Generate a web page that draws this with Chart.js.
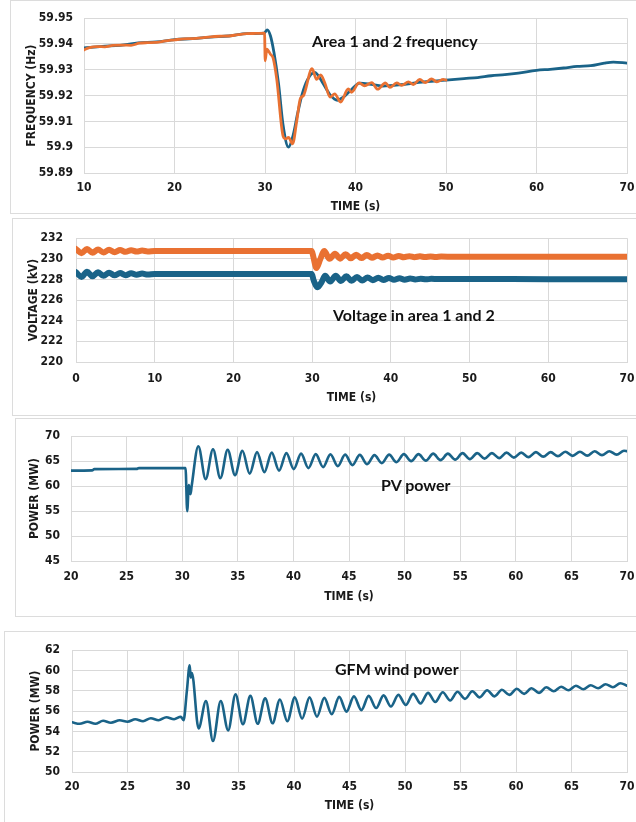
<!DOCTYPE html>
<html>
<head>
<meta charset="utf-8">
<script src="https://cdn.jsdelivr.net/npm/chart.js@4.4.1/dist/chart.umd.min.js"></script>
<style>
  html, body { margin:0; padding:0; background:#fff; }
  body { width:636px; height:822px; position:relative; overflow:hidden; }
  .panel { position:absolute; border:1px solid #dcdcdc; box-sizing:border-box; }
  canvas { position:absolute; left:0; }
  .lbl { position:absolute; font-family: Lato, 'Open Sans', sans-serif; font-weight:bold; font-size:16px; line-height:20px; color:#111; white-space:nowrap; }
</style>
</head>
<body>
<div class="panel" style="left:10px;top:0px;width:640px;height:214px"></div>
<div class="panel" style="left:12px;top:218px;width:640px;height:198px"></div>
<div class="panel" style="left:15px;top:418px;width:640px;height:199px"></div>
<div class="panel" style="left:4px;top:631px;width:640px;height:200px"></div>

<canvas id="c1" width="636" height="214" style="top:0px"></canvas>
<canvas id="c2" width="636" height="187" style="top:218px"></canvas>
<canvas id="c3" width="636" height="186" style="top:418px"></canvas>
<canvas id="c4" width="636" height="182" style="top:631px"></canvas>

<div class="lbl" style="left:312px;top:31px">Area 1 and 2 frequency</div>
<div class="lbl" style="left:333px;top:305px">Voltage in area 1 and 2</div>
<div class="lbl" style="left:381px;top:475px">PV power</div>
<div class="lbl" style="left:335px;top:659px">GFM wind power</div>

<script>
// ---------- Panel 1: frequency ----------
const freqXTicks = ['10','20','30','40','50','60','70'];
const freqYTicks = ['59.89','59.9','59.91','59.92','59.93','59.94','59.95'];
const freqBlueT = [10,12,14,16,18,20,22,24,26,28,29.9,30.25,30.6,31.0,31.5,32.0,32.6,33.1,33.6,34.1,34.7,35.5,36.4,37.2,38.0,38.7,39.4,40.5,41.5,43.0,45.0,47.0,50.0,52.0,53.5,55.0,56.5,58.0,60.0,61.5,63.0,64.5,66.0,67.5,68.5,70.0];
const freqBlueV = [59.9385,59.9391,59.9395,59.9404,59.9408,59.9417,59.9421,59.9427,59.9431,59.9440,59.9442,59.9455,59.9432,59.9365,59.9245,59.9085,59.9000,59.9045,59.9130,59.9205,59.9262,59.9290,59.9248,59.9203,59.9182,59.9195,59.9218,59.9248,59.9245,59.9237,59.9242,59.9251,59.9260,59.9266,59.9270,59.9277,59.9281,59.9287,59.9298,59.9302,59.9307,59.9313,59.9316,59.9326,59.9330,59.9326];
const freqOrangeT = [10,10.6,11.5,12.3,13.2,14.3,15.2,16.1,17.0,18.0,19.0,20.0,21.0,22.0,23.0,24.0,25.0,26.0,27.0,28.0,29.0,29.95,30.02,30.2,30.6,30.9,31.3,32.0,32.3,32.6,33.05,33.5,33.9,34.25,35.2,35.7,36.15,36.6,37.2,37.7,38.35,39.2,39.55,40.4,41.0,41.8,42.45,43.3,43.8,44.55,45.1,45.85,46.4,47.1,47.7,48.4,49.0,49.7,50.0];
const freqOrangeV = [59.9377,59.9386,59.9390,59.9389,59.9395,59.9396,59.9395,59.9403,59.9405,59.9406,59.9412,59.9416,59.9420,59.9421,59.9424,59.9428,59.9430,59.9431,59.9436,59.9440,59.9441,59.9442,59.9335,59.9380,59.9360,59.9345,59.9263,59.9043,59.9032,59.9038,59.9013,59.9100,59.9188,59.9200,59.9304,59.9263,59.9280,59.9250,59.9194,59.9207,59.9175,59.9226,59.9213,59.9249,59.9238,59.9250,59.9225,59.9249,59.9232,59.9249,59.9240,59.9253,59.9243,59.9263,59.9250,59.9265,59.9253,59.9263,59.9260];

// ---------- Panel 2: voltage ----------
const voltXTicks = ['0','10','20','30','40','50','60','70'];
const voltYTicks = ['220','222','224','226','228','230','232'];
const voltOrangeT = [0,0.7,1.4,2.1,2.8,3.5,4.2,4.9,5.6,6.3,7.0,7.7,8.4,9.1,10,15,20,25,29.95,30.15,30.55,31.0,31.55,32.2,32.9,33.55,34.25,34.9,35.6,36.25,36.95,37.6,38.3,38.95,39.65,40.3,41.0,41.65,42.35,43.0,43.7,44.35,45.05,45.7,46.4,48,55,62,70];
const voltOrangeV = [230.95,230.55,230.95,230.6,230.9,230.62,230.88,230.65,230.85,230.68,230.83,230.7,230.8,230.72,230.77,230.76,230.76,230.76,230.76,230.2,229.1,229.9,230.75,230.0,230.5,230.02,230.45,230.05,230.4,230.07,230.36,230.1,230.33,230.12,230.3,230.13,230.28,230.15,230.26,230.16,230.24,230.17,230.23,230.18,230.22,230.2,230.2,230.2,230.2];
const voltBlueT = [0,0.7,1.4,2.1,2.8,3.5,4.2,4.9,5.6,6.3,7.0,7.7,8.4,9.1,10,15,20,25,29.95,30.2,30.7,31.2,31.65,32.3,33.0,33.65,34.35,35.0,35.7,36.35,37.05,37.7,38.4,39.05,39.75,40.4,41.1,41.75,42.45,43.1,43.8,44.45,45.15,46,50,60,70];
const voltBlueV = [228.7,228.25,228.75,228.3,228.7,228.35,228.65,228.4,228.62,228.42,228.6,228.45,228.57,228.47,228.53,228.52,228.52,228.52,228.52,227.9,227.25,227.75,228.35,227.8,228.35,227.85,228.3,227.88,228.25,227.9,228.2,227.93,228.17,227.95,228.14,227.97,228.12,227.98,228.1,228.0,228.08,228.01,228.06,228.04,228.04,228.03,228.03];

// ---------- Panel 3: PV power ----------
const pvXTicks = ['20','25','30','35','40','45','50','55','60','65','70'];
const pvYTicks = ['45','50','55','60','65','70'];
const pvT = [20.0,21.9,22.1,25.9,26.1,30.3,30.45,30.6,30.75,30.85,31.45,32.11,32.77,33.43,34.09,34.75,35.41,36.07,36.73,37.39,38.05,38.71,39.37,40.03,40.69,41.35,42.01,42.67,43.33,43.99,44.65,45.31,45.97,46.63,47.29,47.95,48.61,49.27,49.93,50.59,51.25,51.91,52.57,53.23,53.89,54.55,55.21,55.87,56.53,57.19,57.85,58.51,59.17,59.83,60.49,61.15,61.81,62.47,63.13,63.79,64.45,65.11,65.77,66.43,67.09,67.75,68.41,69.07,69.73,70.0];
const pvV = [63.1,63.15,63.4,63.45,63.6,63.6,55.0,60.2,58.4,60.0,68.0,61.4,67.4,61.6,67.3,62.2,67.1,62.5,66.8,62.8,66.7,63.1,66.6,63.4,66.5,63.6,66.4,63.8,66.35,64.0,66.3,64.2,66.25,64.4,66.2,64.6,66.3,64.8,66.4,65.0,66.4,65.1,66.5,65.2,66.5,65.3,66.6,65.4,66.6,65.5,66.6,65.6,66.7,65.7,66.7,65.8,66.8,65.9,66.8,66.0,66.9,66.05,66.9,66.1,67.0,66.2,67.0,66.3,67.1,67.0];

// ---------- Panel 4: GFM wind power ----------
const windXTicks = ['20','25','30','35','40','45','50','55','60','65','70'];
const windYTicks = ['50','52','54','56','58','60','62'];
const windT = [20.0,20.7,21.4,22.1,22.8,23.5,24.3,25.0,25.7,26.4,27.1,27.8,28.5,29.2,29.8,30.05,30.35,30.6,30.7,30.8,31.4,32.07,32.7,33.4,34.07,34.73,35.4,36.07,36.73,37.4,38.07,38.73,39.4,40.07,40.73,41.4,42.07,42.73,43.4,44.07,44.73,45.4,46.07,46.73,47.4,48.07,48.73,49.4,50.07,50.73,51.4,52.07,52.73,53.4,54.07,54.73,55.4,56.07,56.73,57.4,58.07,58.73,59.4,60.07,60.73,61.4,62.07,62.73,63.4,64.07,64.73,65.4,66.07,66.73,67.4,68.07,68.73,69.4,70.0];
const windV = [54.9,54.75,54.95,54.75,55.05,54.85,55.1,54.95,55.2,55.0,55.3,55.1,55.4,55.2,55.45,55.1,58.0,60.5,59.3,59.75,54.3,57.0,53.05,57.0,54.1,57.65,54.7,57.5,54.75,57.25,54.8,57.15,55.0,57.35,55.25,57.35,55.45,57.3,55.7,57.4,55.95,57.45,56.1,57.5,56.3,57.55,56.45,57.6,56.6,57.7,56.75,57.8,56.9,57.85,57.05,57.9,57.2,57.95,57.35,58.05,57.45,58.1,57.6,58.2,57.7,58.25,57.8,58.35,57.95,58.4,58.05,58.5,58.15,58.55,58.25,58.65,58.35,58.75,58.5];

const BLUE = '#1a6388';
const ORANGE = '#e97132';
const GRID = '#d9d9d9';
const TICKFONT = { family: "'Liberation Sans Narrow', 'DejaVu Sans Condensed', 'Arial Narrow', sans-serif", size: 12, weight: 'bold' };

function pts(T, V) { return T.map((t, i) => ({ x: t, y: V[i] })); }

function makeChart(id, o) {
  const ctx = document.getElementById(id);
  const canvasH = ctx.height;
  return new Chart(ctx, {
    type: 'line',
    data: { datasets: o.datasets.map(d => ({
      data: pts(d.t, d.v), borderColor: d.color, borderWidth: d.width,
      pointRadius: 0, fill: false, tension: 0.4, cubicInterpolationMode: 'monotone',
      borderCapStyle: 'round', borderJoinStyle: 'round'
    })) },
    options: {
      responsive: false, animation: false, devicePixelRatio: 1,
      layout: { padding: { left: 0, top: o.plotTop, right: 0, bottom: 0 } },
      plugins: { legend: { display: false }, tooltip: { enabled: false } },
      scales: {
        x: {
          type: 'linear', min: o.xMin, max: o.xMax,
          afterFit: s => { s.height = canvasH - o.plotBottom; s.paddingRight = 9; },
          grid: { color: GRID, drawTicks: false, lineWidth: 1 },
          border: { display: true, color: GRID },
          ticks: { stepSize: o.xStep, autoSkip: false, maxRotation: 0, padding: o.xPad, color: '#1a1a1a', font: TICKFONT,
                   callback: (v, i) => o.xLabels[i] },
          title: { display: true, text: 'TIME (s)', color: '#1a1a1a', font: TICKFONT, padding: { top: 0, bottom: 0 } }
        },
        y: {
          type: 'linear', min: o.yMin, max: o.yMax,
          afterFit: s => { s.width = o.plotLeft; },
          grid: { color: GRID, drawTicks: false, lineWidth: 1 },
          border: { display: true, color: GRID },
          ticks: { stepSize: o.yStep, autoSkip: false, padding: o.yPad, color: '#1a1a1a', font: TICKFONT,
                   callback: (v, i) => o.yLabels[i] },
          title: { display: true, text: o.yTitle, color: '#1a1a1a', font: TICKFONT, padding: { top: o.yTitlePad, bottom: 0 } }
        }
      }
    }
  });
}

makeChart('c1', {
  xMin: 10, xMax: 70, xStep: 10, xLabels: freqXTicks,
  yMin: 59.89, yMax: 59.95, yStep: 0.01, yLabels: freqYTicks,
  yTitle: 'FREQUENCY (Hz)', plotLeft: 84, plotTop: 14, plotBottom: 173,
  xPad: 8, yPad: 11, yTitlePad: 25,
  datasets: [
    { t: freqOrangeT, v: freqOrangeV, color: ORANGE, width: 2.8 },
    { t: freqBlueT, v: freqBlueV, color: BLUE, width: 2.8 }
  ]
});

makeChart('c2', {
  xMin: 0, xMax: 70, xStep: 10, xLabels: voltXTicks,
  yMin: 220, yMax: 232, yStep: 2, yLabels: voltYTicks,
  yTitle: 'VOLTAGE (kV)', plotLeft: 76, plotTop: 13, plotBottom: 144,
  xPad: 10, yPad: 13, yTitlePad: 27,
  datasets: [
    { t: voltOrangeT, v: voltOrangeV, color: ORANGE, width: 6 },
    { t: voltBlueT, v: voltBlueV, color: BLUE, width: 6 }
  ]
});

makeChart('c3', {
  xMin: 20, xMax: 70, xStep: 5, xLabels: pvXTicks,
  yMin: 45, yMax: 70, yStep: 5, yLabels: pvYTicks,
  yTitle: 'POWER (MW)', plotLeft: 71, plotTop: 15, plotBottom: 143,
  xPad: 9, yPad: 11, yTitlePad: 28,
  datasets: [
    { t: pvT, v: pvV, color: BLUE, width: 2.6 }
  ]
});

makeChart('c4', {
  xMin: 20, xMax: 70, xStep: 5, xLabels: windXTicks,
  yMin: 50, yMax: 62, yStep: 2, yLabels: windYTicks,
  yTitle: 'POWER (MW)', plotLeft: 72, plotTop: 13, plotBottom: 141,
  xPad: 8, yPad: 12, yTitlePad: 29,
  datasets: [
    { t: windT, v: windV, color: BLUE, width: 2.6 }
  ]
});
</script>
</body>
</html>
